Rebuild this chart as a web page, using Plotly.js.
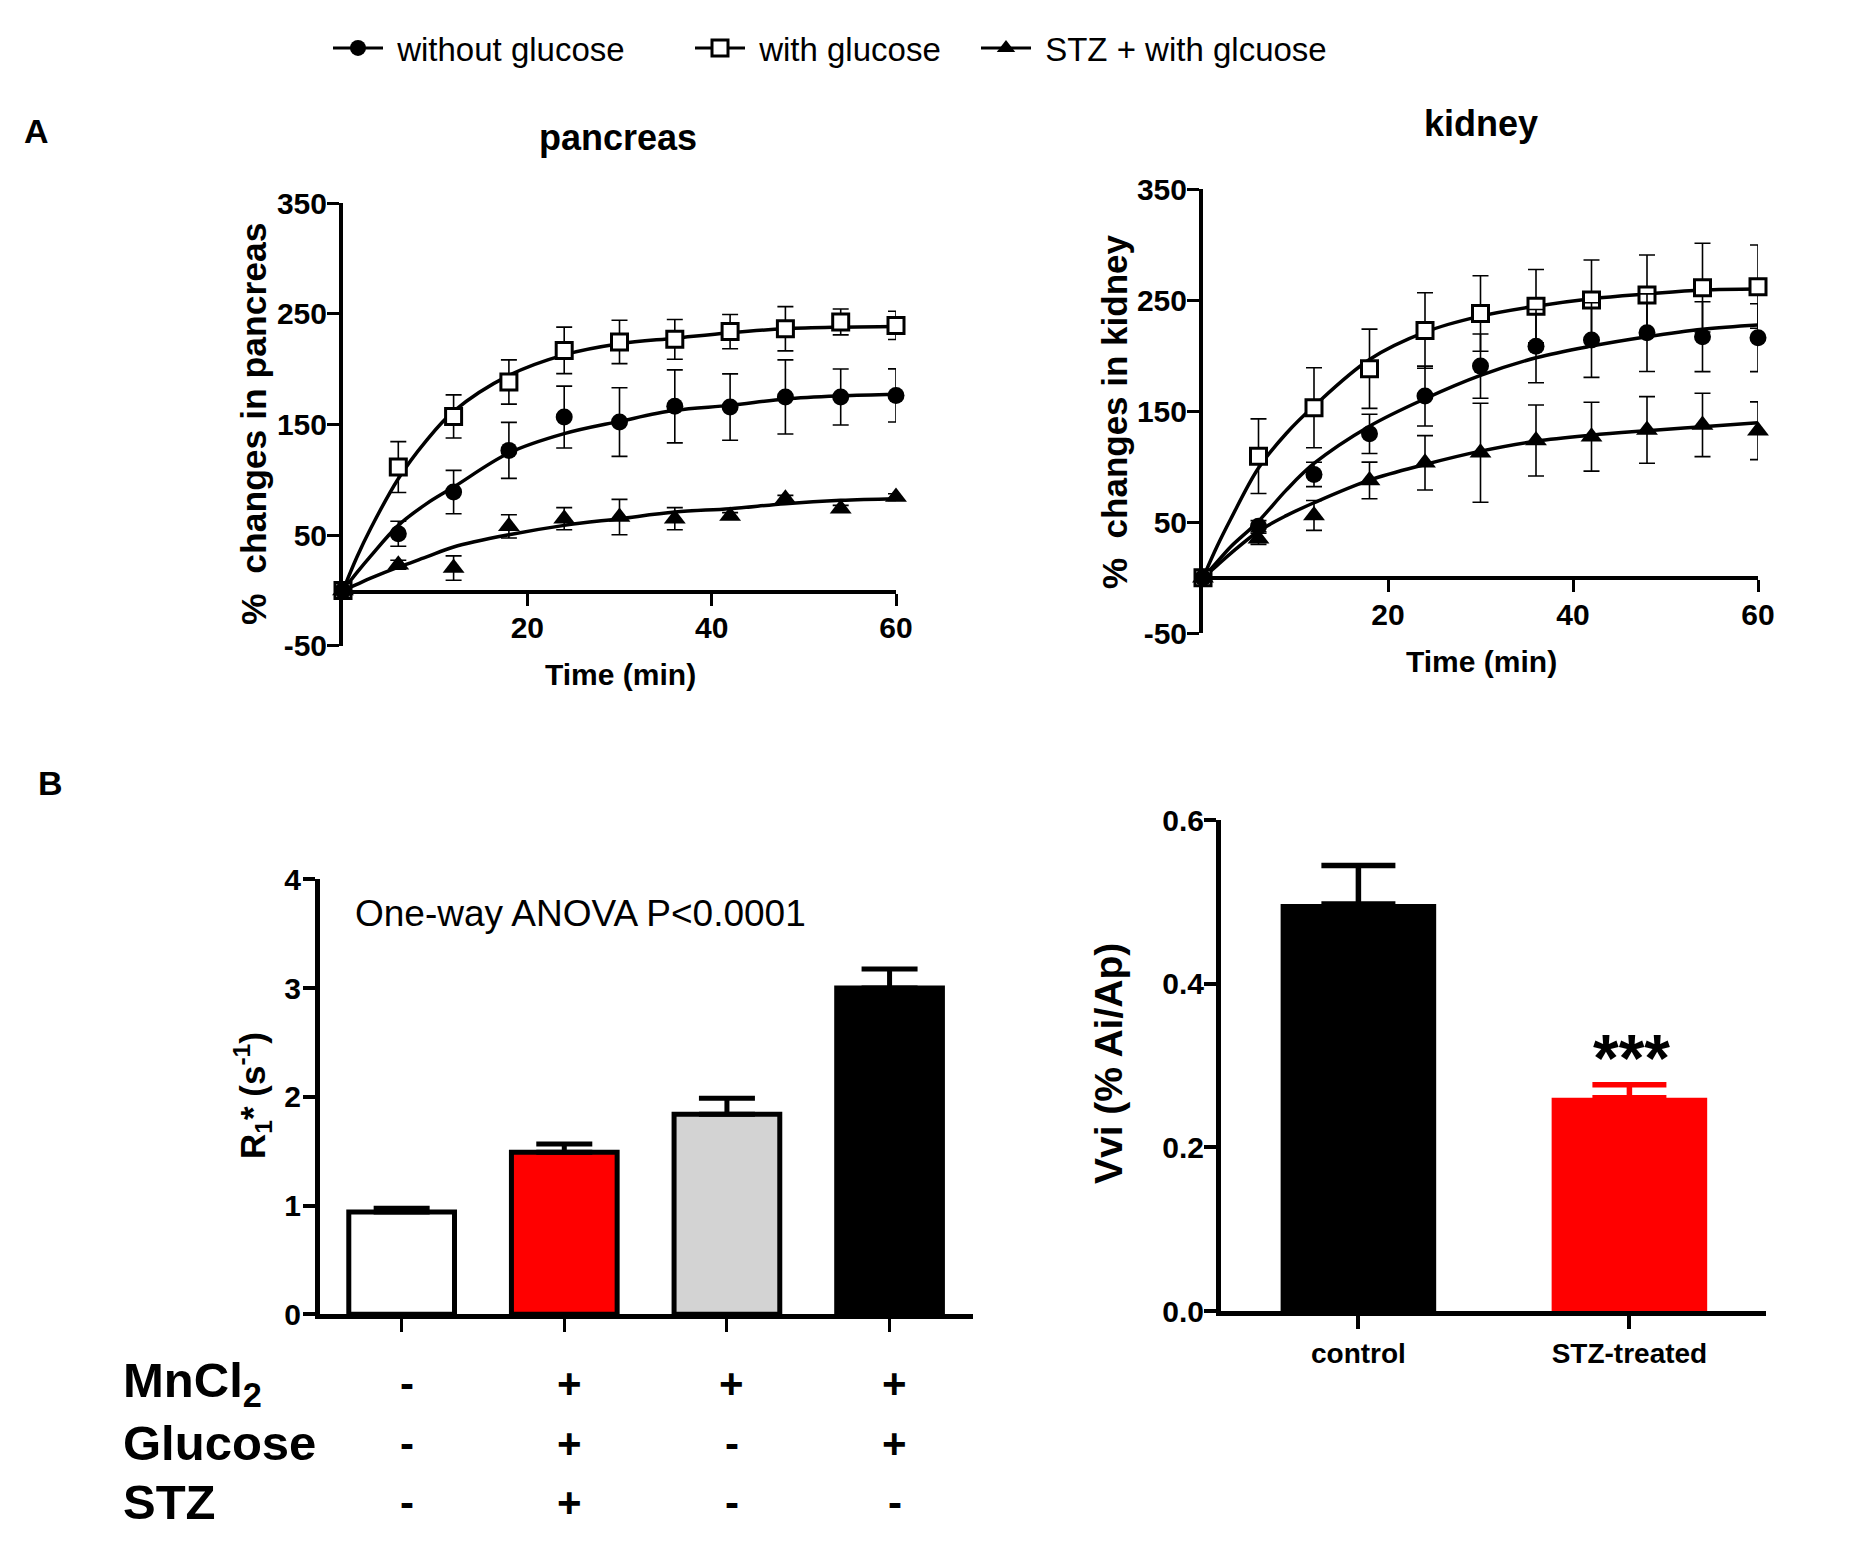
<!DOCTYPE html>
<html><head><meta charset="utf-8">
<script src="https://cdn.plot.ly/plotly-3.0.1.min.js"></script>
<style>html,body{margin:0;padding:0;background:#fff}#chart{width:1865px;height:1562px}</style>
</head><body><div id="chart"></div><script>
// ---------------- DATA ----------------
const timePts = [0, 6, 12, 18, 24, 30, 36, 42, 48, 54, 60];
const fitTimes = [0, 1.5, 3, 6, 9, 12, 18, 24, 30, 36, 42, 48, 54, 60];
const seriesNames = ['without glucose', 'with glucose', 'STZ + with glcuose'];

// pancreas
const pancWithout = [0, 51.2, 88.9, 126.6, 156.7, 152.2, 166.4, 165.8, 174.9, 174.9, 176.3];
const pancWithoutErr = [0, 11.3, 19.6, 25.3, 28, 31, 33, 30, 33.5, 25.3, 24];
const pancWith = [0, 111.5, 157.3, 188.4, 217, 224.6, 227, 234, 236.6, 242.7, 239.6];
const pancWithErr = [0, 23, 19.5, 20, 21, 19.6, 18, 15.5, 20, 11.7, 12.8];
const pancStz = [0, 23.2, 20.2, 57.9, 64.8, 66.3, 64.8, 67.3, 82.9, 73.9, 84.4];
const pancStzErr = [0, 4, 11, 10.5, 10, 16, 10, 3, 3, 3, 3];
const pancFitWithout = [0, 16, 31, 58.8, 78, 93.4, 124.2, 141.7, 152.8, 162.8, 167.3, 173, 175.8, 177.3];
const pancFitWith = [0, 30, 56, 101, 135, 161.9, 194.4, 213, 223, 228, 233, 236.6, 238, 238.6];
const pancFitStz = [0, 5.5, 11, 21, 30, 39.2, 50.3, 58.8, 64.8, 70.8, 73.9, 78.4, 81.4, 82.9];

// kidney
const kidWithout = [0, 46.5, 93.1, 129.7, 163.7, 190.7, 208.7, 214.2, 220.8, 217.2, 216.3];
const kidWithoutErr = [0, 5, 11, 17.7, 27, 29, 33, 33.6, 35, 31.5, 30.6];
const kidWith = [0, 109.6, 153.2, 188.3, 222.8, 238.1, 244.7, 250.3, 254.8, 261.4, 262.3];
const kidWithErr = [0, 33.6, 36, 35.7, 34, 34, 33, 36, 36, 40, 37.5];
const kidStz = [0, 35.1, 56.2, 87.7, 103.6, 112.6, 123.7, 127.1, 133.2, 137.7, 132.5];
const kidStzErr = [0, 5, 13.5, 16.5, 24.5, 44.6, 32, 31, 30, 28.5, 26];
const kidFitWithout = [0, 14, 28, 51, 79, 103, 136.6, 161.3, 182.3, 198.2, 208.8, 217.2, 223.9, 227.7];
const kidFitWith = [0, 28, 53, 99, 130, 154.7, 196.7, 221.3, 235.7, 244.7, 251.4, 255.7, 259.3, 260.2];
const kidFitStz = [0, 11, 22, 42, 56, 67.6, 88, 102.1, 114.1, 123.1, 128.5, 132.5, 136.1, 139.7];

// B left: R1*
const r1Groups = ['ctrl', 'Mn+Glc+STZ', 'Mn', 'Mn+Glc'];
const r1Values = [0.94, 1.49, 1.84, 3.0];
const r1Err = [0.035, 0.076, 0.146, 0.175];
const rowLabels = ['MnCl<sub>2</sub>', 'Glucose', 'STZ'];
const mnclRow = ['-', '+', '+', '+'];
const glucoseRow = ['-', '+', '-', '+'];
const stzRow = ['-', '+', '-', '-'];

// B right: Vvi
const vviGroups = ['control', 'STZ-treated'];
const vviValues = [0.4975, 0.2606];
const vviErr = [0.047, 0.016];

// tick labels
const pctTickVals = [-50, 50, 150, 250, 350];
const pctTickText = ['-50', '50', '150', '250', '350'];
const timeTickVals = [20, 40, 60];

// ---------------- STYLE ----------------
const W = 1865, H = 1562;
const px = v => v / W;
const py = v => 1 - v / H;
const ARIAL = "'Liberation Sans', Arial, sans-serif";
const BLK = '#000000';
const RED = '#ff0000';
const barColors = ['#ffffff', RED, '#d3d3d3', BLK];

const symbols = ['circle', 'square', 'triangle-up'];
const fills = [BLK, '#ffffff', BLK];
const symSizes = [17, 16, 19];

function markerStyle(i) {
  return {symbol: symbols[i], size: symSizes[i], color: fills[i],
          line: {color: BLK, width: i === 1 ? 3 : 0}};
}

const traces = [];
function addKinetic(xa, ya, fits, vals, errs) {
  fits.forEach(f => traces.push({x: fitTimes, y: f, xaxis: xa, yaxis: ya, mode: 'lines',
    line: {color: BLK, width: 3.5, shape: 'spline'}, showlegend: false, cliponaxis: false, hoverinfo: 'skip'}));
  [1, 0, 2].forEach(i => traces.push({x: timePts, y: vals[i], xaxis: xa, yaxis: ya, mode: 'markers',
    marker: markerStyle(i), showlegend: false, cliponaxis: false, name: seriesNames[i],
    error_y: {type: 'data', array: errs[i], visible: true, color: BLK, thickness: 1.6, width: 8}}));
}
addKinetic('x', 'y', [pancFitWithout, pancFitWith, pancFitStz], [pancWithout, pancWith, pancStz], [pancWithoutErr, pancWithErr, pancStzErr]);
addKinetic('x2', 'y2', [kidFitWithout, kidFitWith, kidFitStz], [kidWithout, kidWith, kidStz], [kidWithoutErr, kidWithErr, kidStzErr]);

// legend entries
const legIds = ['legend', 'legend2', 'legend3'];
[0, 1, 2].forEach(i => traces.push({x: [null], y: [null], xaxis: 'x', yaxis: 'y', mode: 'lines+markers',
  name: '\u00a0' + seriesNames[i], legend: legIds[i], showlegend: true,
  line: {color: BLK, width: 3}, marker: markerStyle(i)}));

// B left bars
traces.push({type: 'bar', x: r1Groups, y: r1Values, xaxis: 'x3', yaxis: 'y3', width: 0.65,
  marker: {color: barColors, line: {color: BLK, width: 5}}, showlegend: false,
  error_y: {type: 'data', symmetric: false, array: r1Err, arrayminus: r1Err.map(() => 0),
            visible: true, color: BLK, thickness: 5, width: 28}});

// B right bars
[0, 1].forEach(i => traces.push({type: 'bar', x: [vviGroups[i]], y: [vviValues[i]], xaxis: 'x4', yaxis: 'y4',
  width: 0.574, marker: {color: i === 0 ? BLK : RED, line: {width: 0}}, showlegend: false,
  error_y: {type: 'data', symmetric: false, array: [vviErr[i]], arrayminus: [0], visible: true,
            color: i === 0 ? BLK : RED, thickness: 5.5, width: 37}}));

const tickFont = {family: ARIAL, size: 30, color: BLK, weight: 700};
function baseAxis(extra) {
  return Object.assign({showgrid: false, zeroline: false, showline: true, linecolor: BLK, linewidth: 4,
    ticks: 'outside', ticklen: 12, tickwidth: 3, tickcolor: BLK, tickfont: tickFont, fixedrange: true}, extra);
}

const layout = {
  width: W, height: H, margin: {l: 0, r: 0, t: 0, b: 0}, paper_bgcolor: '#ffffff', plot_bgcolor: 'rgba(0,0,0,0)',
  barmode: 'overlay', hovermode: false,
  xaxis: baseAxis({domain: [px(343), px(896)], range: [0, 60], anchor: 'free', position: py(591.7),
    tickvals: timeTickVals, ticklabelstandoff: -4}),
  yaxis: baseAxis({domain: [py(645.7), py(203.3)], range: [-50, 350], anchor: 'x',
    tickvals: pctTickVals, ticktext: pctTickText, ticklabelstandoff: -6}),
  xaxis2: baseAxis({domain: [px(1203), px(1758)], range: [0, 60], anchor: 'free', position: py(577.8),
    tickvals: timeTickVals, ticklabelstandoff: -3}),
  yaxis2: baseAxis({domain: [py(633.3), py(189.3)], range: [-50, 350], anchor: 'x2',
    tickvals: pctTickVals, ticktext: pctTickText, ticklabelstandoff: -6}),
  xaxis3: baseAxis({domain: [px(320), px(973)], type: 'category', range: [-0.502, 3.513], anchor: 'y3',
    showticklabels: false, linewidth: 5, ticklen: 13, tickwidth: 3}),
  yaxis3: baseAxis({domain: [py(1314.3), py(879.3)], range: [0, 4], dtick: 1, anchor: 'x3', linewidth: 5,
    ticklen: 12, tickwidth: 4, ticklabelstandoff: -4}),
  xaxis4: baseAxis({domain: [px(1221), px(1766)], type: 'category', range: [-0.507, 1.504], anchor: 'y4',
    linewidth: 5, ticklen: 13, tickwidth: 4, tickfont: {family: ARIAL, size: 28, color: BLK, weight: 700}}),
  yaxis4: baseAxis({domain: [py(1311), py(820)], range: [0, 0.6], tickvals: [0, 0.2, 0.4, 0.6],
    ticktext: ['0.0', '0.2', '0.4', '0.6'], anchor: 'x4', linewidth: 5, ticklen: 12, tickwidth: 4,
    ticklabelstandoff: -6})
};

const legBase = {orientation: 'h', yanchor: 'middle', xanchor: 'left', bgcolor: 'rgba(0,0,0,0)',
  borderwidth: 0, font: {family: ARIAL, size: 33, color: BLK}, itemwidth: 50, itemclick: false, itemdoubleclick: false};
layout.legend = Object.assign({}, legBase, {x: px(328), y: py(48)});
layout.legend2 = Object.assign({}, legBase, {x: px(690), y: py(48)});
layout.legend3 = Object.assign({}, legBase, {x: px(976), y: py(48)});

const ann = [];
function txt(text, x, y, font, extra) {
  ann.push(Object.assign({text: text, x: px(x), y: py(y), xref: 'paper', yref: 'paper', showarrow: false,
    xanchor: 'center', yanchor: 'middle', font: Object.assign({color: BLK}, font)}, extra || {}));
}
const bold = s => ({family: ARIAL, size: s, weight: 700});

txt('A', 36, 131, bold(34));
txt('B', 50, 783, bold(34));
txt('pancreas', 618, 137, bold(36));
txt('kidney', 1481, 123, bold(36));
txt('Time (min)', 620, 674, bold(30));
txt('Time (min)', 1481, 661, bold(30));
txt('%  changes in pancreas', 254, 424, bold(35.5), {textangle: -90});
txt('%  changes in kidney', 1114, 412, bold(35), {textangle: -90});
txt('R<sub>1</sub>* (s<sup>-1</sup>)', 252, 1095, bold(35), {textangle: -90});
txt('Vvi (% Ai/Ap)', 1108, 1064, bold(39), {textangle: -90});
txt('One-way ANOVA P<0.0001', 353, 914, {family: ARIAL, size: 37}, {xanchor: 'left'});
txt('***', 1631, 1058, bold(66));

const rowY = [1383, 1443, 1502];
rowLabels.forEach((lab, r) => txt(lab, 121, rowY[r], bold(49), {xanchor: 'left'}));
[mnclRow, glucoseRow, stzRow].forEach((row, r) => row.forEach((s, c) => ann.push({
  text: s, x: r1Groups[c], xref: 'x3', y: py(rowY[r]), yref: 'paper', xshift: 5, showarrow: false,
  xanchor: 'center', yanchor: 'middle', font: {family: ARIAL, size: 42, weight: 700, color: BLK}})));
layout.annotations = ann;

Plotly.newPlot('chart', traces, layout, {staticPlot: true, displayModeBar: false});
</script></body></html>
